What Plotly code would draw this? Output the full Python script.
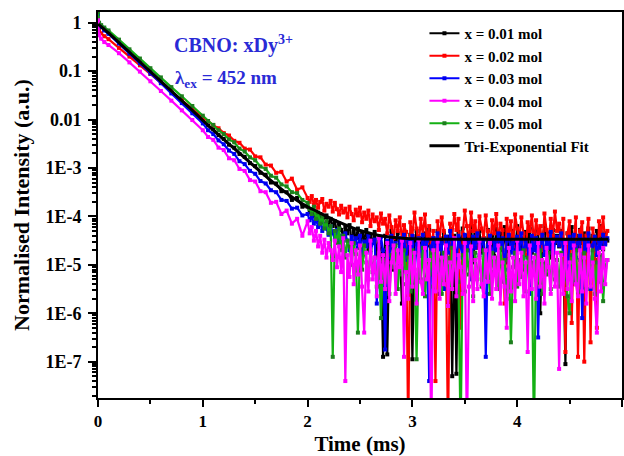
import numpy as np
import plotly.graph_objects as go

# ---------------- data (log10 of normalised intensity) -------------
DECAY_T = [0, 0.01, 0.03, 0.06, 0.1, 0.2, 0.3, 0.4, 0.5, 0.6, 0.7, 0.8, 0.9,
           1.0, 1.05, 1.1, 1.15, 1.2, 1.25, 1.3, 1.35, 1.4, 1.45, 1.5, 1.55,
           1.6, 1.65, 1.7, 1.75, 1.8, 1.85, 1.9, 1.95]
TAIL_T = [2.00, 2.02, 2.04, 2.06, 2.08, 2.10, 2.12, 2.14, 2.16, 2.18, 2.20, 2.22,
          2.24, 2.26, 2.28, 2.30, 2.32, 2.34, 2.36, 2.38, 2.40, 2.42, 2.44, 2.46,
          2.48, 2.50, 2.52, 2.54, 2.56, 2.58, 2.60, 2.62, 2.64, 2.66, 2.68, 2.70,
          2.72, 2.74, 2.76, 2.78, 2.80, 2.82, 2.84, 2.86, 2.88, 2.90, 2.92, 2.94,
          2.96, 2.98, 3.00, 3.02, 3.04, 3.06, 3.08, 3.10, 3.12, 3.14, 3.16, 3.18,
          3.20, 3.22, 3.24, 3.26, 3.28, 3.30, 3.32, 3.34, 3.36, 3.38, 3.40, 3.42,
          3.44, 3.46, 3.48, 3.50, 3.52, 3.54, 3.56, 3.58, 3.60, 3.62, 3.64, 3.66,
          3.68, 3.70, 3.72, 3.74, 3.76, 3.78, 3.80, 3.82, 3.84, 3.86, 3.88, 3.90,
          3.92, 3.94, 3.96, 3.98, 4.00, 4.02, 4.04, 4.06, 4.08, 4.10, 4.12, 4.14,
          4.16, 4.18, 4.20, 4.22, 4.24, 4.26, 4.28, 4.30, 4.32, 4.34, 4.36, 4.38,
          4.40, 4.42, 4.44, 4.46, 4.48, 4.50, 4.52, 4.54, 4.56, 4.58, 4.60, 4.62,
          4.64, 4.66, 4.68, 4.70, 4.72, 4.74, 4.76, 4.78, 4.80, 4.82, 4.84, 4.86]

black_decay = [0.20, -0.02, -0.08, -0.14, -0.20, -0.40, -0.60, -0.80, -1.00, -1.20, -1.40, -1.60, -1.80,
               -2.01, -2.12, -2.20, -2.32, -2.40, -2.52, -2.58, -2.71, -2.77, -2.90, -2.96, -3.10,
               -3.14, -3.30, -3.32, -3.48, -3.50, -3.66, -3.62, -3.80]
red_decay = [0.10, -0.15, -0.22, -0.28, -0.34, -0.52, -0.70, -0.88, -1.06, -1.24, -1.42, -1.60, -1.78,
             -1.96, -2.03, -2.12, -2.18, -2.28, -2.33, -2.44, -2.48, -2.60, -2.62, -2.76, -2.78,
             -2.93, -2.95, -3.10, -3.08, -3.28, -3.22, -3.45, -3.40]
blue_decay = [0.18, -0.03, -0.09, -0.16, -0.23, -0.43, -0.64, -0.84, -1.05, -1.25, -1.46, -1.66, -1.87,
              -2.08, -2.22, -2.30, -2.43, -2.51, -2.64, -2.71, -2.86, -2.92, -3.06, -3.12, -3.27,
              -3.32, -3.46, -3.50, -3.66, -3.68, -3.84, -3.82, -3.98]
magenta_decay = [0.05, -0.26, -0.33, -0.40, -0.46, -0.63, -0.82, -1.01, -1.21, -1.41, -1.61, -1.81, -2.01,
                 -2.22, -2.36, -2.42, -2.58, -2.63, -2.80, -2.84, -3.02, -3.06, -3.25, -3.28, -3.48,
                 -3.50, -3.72, -3.70, -3.95, -3.88, -4.15, -4.05, -4.40]
green_decay = [0.22, 0.00, -0.05, -0.10, -0.16, -0.35, -0.55, -0.74, -0.94, -1.13, -1.33, -1.52, -1.72,
               -1.92, -2.03, -2.11, -2.22, -2.30, -2.41, -2.47, -2.60, -2.66, -2.78, -2.84, -2.97,
               -3.02, -3.16, -3.20, -3.34, -3.38, -3.50, -3.52, -3.66]

red_tail = [
    -3.62, -3.70, -3.58, -3.76, -3.66, -3.82, -3.70, -3.64, -3.88, -3.74, -3.80, -3.68,
    -3.90, -3.72, -3.85, -3.96, -3.78, -3.92, -3.84, -4.02, -3.80, -3.95, -4.08, -3.86,
    -3.98, -3.82, -4.12, -3.92, -4.05, -3.88, -4.20, -3.96, -4.10, -4.02, -4.28, -3.94,
    -4.15, -4.05, -4.35, -3.98, -4.22, -4.45, -4.08, -4.30, -4.02, -4.50, -4.18, -4.32,
    -8.60, -4.12, -4.40, -3.92, -4.25, -4.62, -4.05, -4.38, -3.96, -4.55, -4.20, -4.70,
    -4.30, -7.40, -4.10, -4.45, -4.02, -4.30, -4.85, -8.60, -4.15, -4.40, -3.95, -4.28,
    -4.05, -6.30, -4.35, -3.88, -4.20, -4.55, -3.92, -4.30, -4.10, -4.65, -4.00, -4.25,
    -4.45, -3.98, -4.30, -4.72, -4.08, -4.35, -3.95, -4.50, -4.15, -4.28, -5.80, -4.05,
    -4.40, -4.10, -4.62, -3.96, -4.25, -4.48, -4.02, -4.35, -4.80, -4.12, -4.30, -3.98,
    -4.55, -4.08, -4.35, -4.20, -4.70, -3.94, -4.28, -4.52, -4.05, -4.40, -3.90, -4.30,
    -4.15, -4.60, -4.05, -6.80, -4.35, -4.10, -6.20, -4.45, -4.02, -6.90, -4.30, -4.12,
    -7.00, -4.40, -4.05, -6.60, -4.25, -4.50, -6.30, -4.10, -4.38, -4.02, -4.55, -4.30]
black_tail = [
    -3.80, -3.92, -3.86, -4.00, -3.90, -4.08, -3.95, -4.12, -4.02, -3.98, -4.18, -4.05,
    -4.20, -4.10, -4.32, -4.15, -4.28, -4.40, -4.22, -4.35, -4.18, -4.50, -4.30, -4.45,
    -4.25, -4.60, -4.35, -4.48, -4.28, -4.70, -4.40, -4.55, -4.32, -4.80, -4.45, -4.62,
    -6.90, -4.40, -6.85, -4.55, -4.30, -5.10, -4.48, -4.35, -4.70, -5.80, -4.42, -4.60,
    -4.85, -4.38, -6.95, -4.52, -4.30, -4.75, -4.45, -4.95, -4.35, -4.60, -4.28, -5.20,
    -4.45, -4.62, -4.30, -5.60, -4.50, -4.35, -4.80, -4.42, -4.58, -7.30, -4.40, -7.25,
    -4.32, -4.60, -4.25, -4.85, -4.40, -4.55, -4.20, -4.95, -4.38, -4.62, -4.30, -4.75,
    -4.45, -5.20, -4.28, -4.60, -4.40, -4.82, -4.25, -4.55, -4.35, -4.70, -4.22, -4.95,
    -4.40, -4.58, -4.30, -4.80, -4.20, -4.62, -4.45, -5.10, -4.32, -4.55, -4.25, -4.75,
    -4.38, -4.60, -4.30, -6.00, -4.45, -4.20, -4.70, -4.35, -4.85, -4.28, -4.55, -4.40,
    -4.62, -4.30, -4.80, -7.05, -4.35, -4.58, -4.22, -5.40, -4.40, -4.65, -4.28, -4.55,
    -4.35, -4.72, -4.25, -4.60, -4.40, -4.90, -4.30, -4.55, -4.20, -4.68, -4.35, -4.50]
blue_tail = [
    -3.95, -4.08, -4.00, -4.15, -4.05, -4.22, -4.10, -4.30, -4.15, -4.25, -4.38, -4.20,
    -4.35, -4.48, -4.28, -4.55, -4.40, -4.62, -4.35, -4.50, -4.70, -4.42, -4.58, -4.45,
    -4.65, -4.40, -4.80, -4.52, -4.62, -4.38, -4.75, -4.55, -4.48, -5.80, -4.60, -4.42,
    -4.70, -6.75, -4.50, -4.85, -4.40, -4.65, -4.55, -5.00, -4.45, -4.72, -4.38, -4.90,
    -4.52, -4.65, -4.40, -5.20, -4.58, -4.45, -4.82, -4.38, -4.70, -4.50, -7.40, -4.62,
    -4.45, -4.80, -4.35, -4.68, -4.55, -5.50, -4.42, -4.75, -4.30, -4.60, -4.48, -4.95,
    -4.40, -4.62, -4.85, -4.38, -4.70, -4.50, -5.30, -4.42, -4.65, -4.35, -4.80, -4.55,
    -4.48, -6.90, -4.60, -4.40, -4.95, -4.52, -4.70, -4.35, -4.62, -4.45, -5.10, -4.50,
    -4.38, -4.75, -4.55, -5.00, -4.42, -4.68, -4.35, -4.85, -4.50, -4.62, -5.60, -4.40,
    -4.70, -4.45, -6.50, -4.55, -4.38, -4.80, -4.48, -4.65, -4.32, -5.10, -4.52, -4.42,
    -4.60, -4.35, -4.78, -4.50, -5.30, -4.42, -4.65, -4.38, -4.85, -4.55, -4.40, -6.10,
    -4.48, -4.70, -4.35, -5.50, -4.60, -4.42, -4.80, -4.50, -4.65, -4.38, -4.58, -4.45]
magenta_tail = [
    -4.10, -4.35, -4.22, -4.50, -4.30, -4.62, -4.40, -4.75, -4.48, -4.85, -4.55, -4.70,
    -4.90, -4.50, -5.05, -4.62, -5.15, -4.45, -7.40, -4.80, -5.25, -4.55, -5.40, -4.70,
    -5.20, -4.60, -5.45, -6.40, -4.75, -5.55, -4.50, -5.30, -4.85, -5.65, -4.45, -5.35,
    -4.80, -5.50, -4.55, -5.75, -4.95, -4.60, -5.60, -4.70, -5.05, -4.50, -6.90, -5.15,
    -5.70, -4.55, -5.45, -4.75, -5.80, -4.48, -5.35, -5.60, -4.65, -5.30, -4.90, -8.60,
    -4.70, -5.55, -4.52, -5.70, -4.85, -5.40, -4.60, -5.85, -4.95, -5.50, -4.45, -5.65,
    -4.80, -5.05, -5.60, -4.55, -8.60, -5.45, -4.62, -5.75, -4.90, -5.50, -4.50, -5.40,
    -5.65, -4.70, -5.35, -4.55, -5.70, -4.85, -5.50, -4.60, -5.80, -4.95, -5.45, -6.30,
    -4.65, -5.55, -4.85, -5.75, -4.50, -5.40, -4.75, -5.65, -4.95, -6.80, -4.60, -5.50,
    -4.85, -5.70, -4.55, -5.45, -4.90, -5.80, -4.65, -5.05, -5.60, -4.50, -5.45, -4.75,
    -7.15, -4.80, -5.60, -4.55, -5.50, -4.95, -5.75, -4.60, -5.40, -5.65, -4.70, -5.55,
    -4.85, -5.80, -4.60, -5.45, -4.95, -5.70, -6.40, -4.75, -5.55, -4.65, -5.40, -4.90]
green_tail = [
    -3.72, -3.85, -3.95, -3.80, -4.05, -3.92, -4.15, -4.00, -4.25, -4.10, -4.35, -4.20,
    -6.90, -4.30, -4.55, -4.25, -4.70, -4.40, -4.85, -4.50, -4.62, -5.00, -4.55, -4.78,
    -6.40, -4.65, -5.10, -4.60, -4.95, -5.30, -4.70, -5.15, -4.85, -5.45, -4.75, -6.10,
    -4.90, -5.35, -4.65, -5.60, -4.80, -5.05, -4.60, -5.50, -4.90, -5.20, -4.70, -5.40,
    -4.85, -5.55, -4.70, -5.10, -6.95, -4.80, -5.30, -4.65, -5.65, -4.95, -5.20, -4.75,
    -5.45, -4.70, -5.15, -4.90, -5.60, -4.75, -5.25, -4.85, -5.50, -4.65, -5.10, -4.95,
    -5.35, -8.60, -4.80, -5.55, -4.70, -5.20, -4.90, -5.65, -4.75, -5.30, -4.85, -5.45,
    -4.70, -5.25, -4.95, -5.60, -4.75, -5.15, -4.85, -5.50, -4.65, -5.35, -4.90, -5.70,
    -4.80, -6.60, -5.05, -4.75, -5.45, -4.90, -5.25, -4.70, -5.55, -4.85, -5.15, -4.95,
    -8.60, -4.80, -5.40, -4.70, -5.60, -4.95, -5.20, -4.75, -5.50, -4.85, -5.30, -4.90,
    -5.45, -4.75, -5.15, -4.95, -5.65, -6.00, -4.80, -5.35, -4.70, -5.55, -4.90, -5.25,
    -4.75, -5.50, -4.85, -5.20, -4.70, -5.60, -4.95, -5.35, -4.80, -5.75, -5.05, -4.90]

FIT_T = [0, 0.05, 0.1, 0.2, 0.3, 0.4, 0.5, 0.6, 0.7, 0.8, 0.9, 1.0, 1.1, 1.2, 1.3, 1.4, 1.5,
         1.6, 1.7, 1.8, 1.9, 2.0, 2.1, 2.2, 2.3, 2.4, 2.5, 2.6, 2.7, 2.8, 2.9, 3.0, 3.2,
         3.5, 4.0, 4.5, 4.87]
FIT_LOG = [-0.03, -0.12, -0.21, -0.41, -0.61, -0.81, -1.01, -1.21, -1.41, -1.61, -1.81, -2.02,
           -2.22, -2.41, -2.60, -2.79, -2.98, -3.17, -3.35, -3.52, -3.67, -3.80, -3.91, -4.02,
           -4.12, -4.21, -4.29, -4.35, -4.40, -4.43, -4.45, -4.46, -4.47, -4.47, -4.47, -4.47, -4.47]

LABELS = ["x = 0.01 mol", "x = 0.02 mol", "x = 0.03 mol", "x = 0.04 mol", "x = 0.05 mol"]
Y_TICKVALS = [1, 0.1, 0.01, 1e-3, 1e-4, 1e-5, 1e-6, 1e-7]
Y_TICKTEXT = ["1", "0.1", "0.01", "1E-3", "1E-4", "1E-5", "1E-6", "1E-7"]

# ---------------- figure -------------------------------------------------------------
# (decay, tail, line colour, marker colour, legend rank); drawn so magenta sits on top
series = [
    (black_decay, black_tail, "#000000", "#000000", 1, LABELS[0]),
    (red_decay, red_tail, "#ff0000", "#ff0000", 2, LABELS[1]),
    (blue_decay, blue_tail, "#0000ff", "#0000ee", 3, LABELS[2]),
    (green_decay, green_tail, "#14b014", "#1e7e1e", 5, LABELS[4]),
    (magenta_decay, magenta_tail, "#ff00ff", "#ff00ff", 4, LABELS[3]),
]

t_all = np.array(DECAY_T + TAIL_T)
fig = go.Figure()
for dec, tail, lc, mc, rank, name in series:
    y = 10.0 ** np.array(dec + tail)
    fig.add_trace(go.Scatter(
        x=t_all, y=y, name=name, mode="lines+markers", legendrank=rank,
        line=dict(color=lc, width=2.2),
        marker=dict(color=mc, size=4, symbol="square"),
    ))

fig.add_trace(go.Scatter(
    x=FIT_T, y=10.0 ** np.array(FIT_LOG), name="Tri-Exponential Fit", mode="lines",
    legendrank=6, line=dict(color="#000000", width=3, shape="spline"),
))

FONT = "Liberation Serif"
minor_vals = [k * 10.0 ** e for e in range(-8, 1) for k in range(2, 10)]

fig.update_layout(
    width=624, height=456,
    margin=dict(l=98, r=2, t=12, b=58, autoexpand=False),
    paper_bgcolor="white", plot_bgcolor="white",
    font=dict(family=FONT, color="black", size=16, weight="bold"),
    showlegend=True,
    legend=dict(x=0.623, y=0.987, xanchor="left", yanchor="top", traceorder="normal",
                bgcolor="rgba(0,0,0,0)", font=dict(family=FONT, size=15, weight="bold"),
                tracegroupgap=0),
    xaxis=dict(
        range=[0, 5], tickmode="linear", tick0=0, dtick=1, automargin=False,
        ticks="outside", ticklen=7, tickwidth=2, tickcolor="black",
        showline=True, linewidth=2, linecolor="black", mirror=True,
        showgrid=False, zeroline=False,
        tickfont=dict(family=FONT, size=17, weight="bold"),
        minor=dict(ticks="outside", ticklen=4, tickwidth=2, dtick=0.5, showgrid=False),
        title=dict(text="Time (ms)", font=dict(family=FONT, size=21, weight="bold"), standoff=8),
    ),
    yaxis=dict(
        type="log", range=[-7.75, 0.221], automargin=False,
        tickmode="array", tickvals=Y_TICKVALS, ticktext=Y_TICKTEXT,
        ticks="outside", ticklen=8, tickwidth=2, tickcolor="black",
        showline=True, linewidth=2, linecolor="black", mirror=True,
        showgrid=False, zeroline=False, ticklabelstandoff=3,
        tickfont=dict(family=FONT, size=18, weight="bold"),
        minor=dict(ticks="outside", ticklen=4, tickwidth=1.5, tickvals=minor_vals, showgrid=False),
        title=dict(text="Normalised Intensity (a.u.)", font=dict(family=FONT, size=22, weight="bold"),
                   standoff=10),
    ),
)

fig.add_annotation(xref="paper", yref="paper", x=0.141, y=0.915, xanchor="left", yanchor="middle",
                   text="CBNO: xDy<sup>3+</sup>", showarrow=False,
                   font=dict(family=FONT, size=20, color="#2a2ad6", weight="bold"))
fig.add_annotation(xref="paper", yref="paper", x=0.143, y=0.827, xanchor="left", yanchor="middle",
                   text="λ<sub>ex</sub> = 452 nm", showarrow=False,
                   font=dict(family=FONT, size=19, color="#2a2ad6", weight="bold"))

fig.write_html("out.html", config={"displayModeBar": False},
               post_script="document.body.style.margin='0px';")
